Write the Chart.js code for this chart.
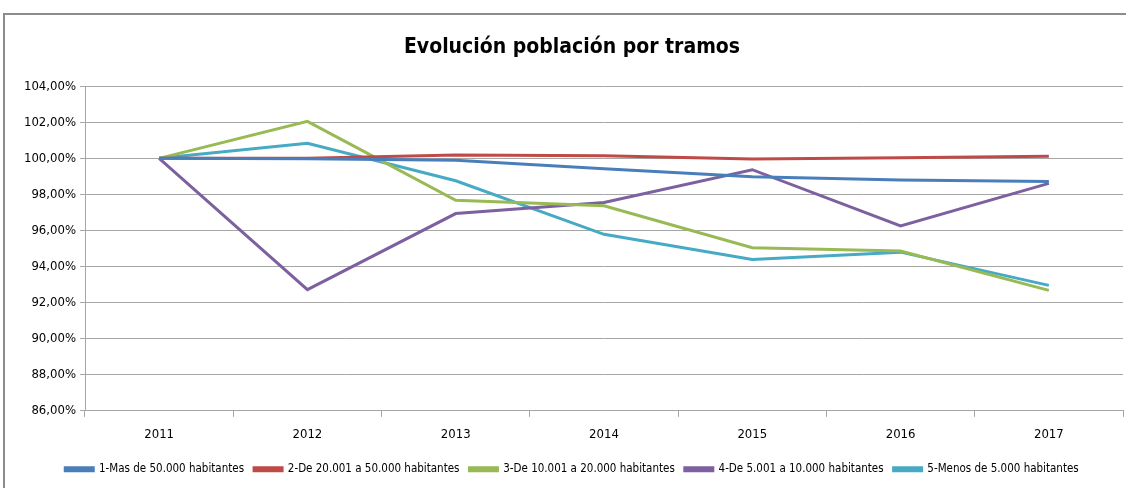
<!DOCTYPE html>
<html>
<head>
<meta charset="utf-8">
<script src="https://cdn.jsdelivr.net/npm/chart.js@4"></script>
<style>
  html, body { margin: 0; padding: 0; background: #fff; }
  #frame { position: absolute; left: 0; top: 0; width: 1126px; height: 488px; }
  #border { position: absolute; left: 3px; top: 13px; width: 1200px; height: 600px; border: 2px solid #8c8c8c; box-sizing: border-box; }
  canvas { position: absolute; left: 0; top: 0; }
</style>
</head>
<body>
<div id="frame">
  <div id="border"></div>
  <canvas id="c" width="1126" height="488"></canvas>
</div>
<script>
const categories = ['2011', '2012', '2013', '2014', '2015', '2016', '2017'];
const seriesNames = [
  '1-Mas de 50.000 habitantes',
  '2-De 20.001 a 50.000 habitantes',
  '3-De 10.001 a 20.000 habitantes',
  '4-De 5.001 a 10.000 habitantes',
  '5-Menos de 5.000 habitantes'
];
const serie1 = [100.00, 99.98, 99.90, 99.43, 98.98, 98.80, 98.72];
const serie2 = [100.00, 100.00, 100.19, 100.14, 99.97, 100.03, 100.12];
const serie3 = [100.00, 102.05, 97.68, 97.37, 95.05, 94.86, 92.68];
const serie4 = [100.00, 92.72, 96.94, 97.55, 99.37, 96.25, 98.61];
const serie5 = [100.00, 100.84, 98.76, 95.79, 94.40, 94.80, 92.96];
const colors = ['#4a7ebb', '#be4b48', '#98b954', '#7d60a0', '#46aac5'];
const yMin = 86, yMax = 104, yStep = 2;
const titleText = 'Evolución población por tramos';

const allSeries = [serie1, serie2, serie3, serie4, serie5];
const FONT = "'DejaVu Sans Condensed', 'Liberation Sans', sans-serif";

new Chart(document.getElementById('c'), {
  type: 'line',
  data: {
    labels: categories,
    datasets: allSeries.map((d, i) => ({
      label: seriesNames[i],
      data: d,
      borderColor: colors[i],
      backgroundColor: colors[i],
      borderWidth: 3,
      pointRadius: 0,
      pointHoverRadius: 0,
      tension: 0,
      fill: false
    }))
  },
  options: {
    responsive: false,
    animation: false,
    devicePixelRatio: 1,
    layout: { padding: { left: 21, right: 3, top: 16, bottom: 3 } },
    plugins: {
      title: {
        display: true,
        text: titleText,
        color: '#000',
        font: { family: FONT, size: 21, weight: 'bold' },
        padding: { top: 19, bottom: 26 }
      },
      legend: {
        position: 'bottom',
        labels: {
          color: '#000',
          font: { family: FONT, size: 11.5 },
          boxWidth: 28,
          boxHeight: 3,
          padding: 10
        }
      },
      tooltip: { enabled: false }
    },
    scales: {
      x: {
        offset: true,
        afterFit: (s) => { s.height += 1; },
        grid: {
          offset: true,
          drawOnChartArea: false,
          drawTicks: true,
          tickLength: 6,
          color: '#a6a6a6',
          lineWidth: 1
        },
        border: { color: '#a6a6a6', width: 1 },
        ticks: { color: '#000', font: { family: FONT, size: 13 }, padding: 10, maxRotation: 0 }
      },
      y: {
        min: yMin,
        max: yMax,
        afterFit: (s) => { s.width = 64; },
        grid: {
          color: '#a6a6a6',
          lineWidth: 1,
          drawTicks: true,
          tickLength: 5
        },
        border: { color: '#a6a6a6', width: 1 },
        ticks: {
          stepSize: yStep,
          color: '#000',
          font: { family: FONT, size: 13 },
          padding: 4,
          callback: (v) => v.toFixed(2).replace('.', ',') + '%'
        }
      }
    }
  }
});
</script>
</body>
</html>
